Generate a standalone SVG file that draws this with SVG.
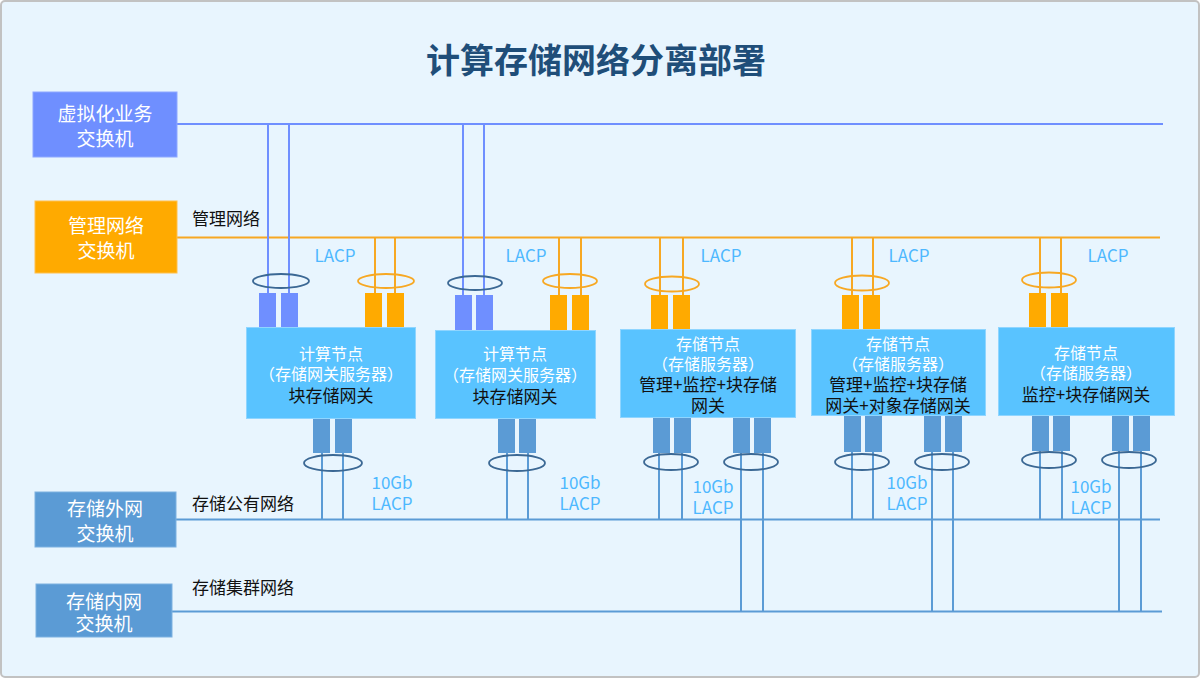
<svg xmlns="http://www.w3.org/2000/svg" width="1200" height="678" viewBox="0 0 1200 678">
<style>
text{font-family:"Noto Sans CJK SC","Noto Sans",sans-serif;dominant-baseline:central;text-anchor:middle}
.title{font-size:34px;font-weight:bold;fill:#1F4E79}
.sw{font-size:19px;fill:#FFFFFF}
.lbl{font-size:17px;fill:#111111;text-anchor:start}
.lacp{font-size:17px;fill:#4DB8FF}
.nw{font-size:16px;fill:#FFFFFF}
.nb{font-size:17px;fill:#111111}
.node{fill:#59C3FF;stroke:#8FD5FF;stroke-width:1}
.pv{fill:#6F8FFF}
.po{fill:#FFAA00}
.ps{fill:#5B9BD5}
.lv{stroke:#6F8FFF;stroke-width:2;fill:none}
.lo{stroke:#F7A823;stroke-width:2;fill:none}
.ls{stroke:#5B9BD5;stroke-width:2;fill:none}
.ed{fill:none;stroke:#3B6894;stroke-width:1.8}
.eo{fill:none;stroke:#F7A823;stroke-width:1.8}
</style>
<rect x="1" y="1" width="1198" height="676" rx="4" fill="#E8F5FE" stroke="#C2C2C2" stroke-width="2"/>
<text class="title" x="596" y="58">计算存储网络分离部署</text>

<g id="connectors">
  <line class="lv" x1="177" y1="124" x2="1163" y2="124" stroke-width="2.5"/>
  <line class="lo" x1="177" y1="237.5" x2="1160" y2="237.5"/>
  <line class="ls" x1="176" y1="519.5" x2="1160" y2="519.5"/>
  <line class="ls" x1="171" y1="611.5" x2="1162" y2="611.5"/>
  <line class="lv" x1="268" y1="124" x2="268" y2="293"/>
  <line class="lv" x1="289" y1="124" x2="289" y2="293"/>
  <line class="lv" x1="463" y1="124" x2="463" y2="295"/>
  <line class="lv" x1="484" y1="124" x2="484" y2="295"/>
  <line class="lo" x1="375" y1="237" x2="375" y2="293"/>
  <line class="lo" x1="395" y1="237" x2="395" y2="293"/>
  <line class="lo" x1="559" y1="237" x2="559" y2="295"/>
  <line class="lo" x1="581" y1="237" x2="581" y2="295"/>
  <line class="lo" x1="660" y1="237" x2="660" y2="295"/>
  <line class="lo" x1="683" y1="237" x2="683" y2="295"/>
  <line class="lo" x1="852" y1="237" x2="852" y2="295"/>
  <line class="lo" x1="873" y1="237" x2="873" y2="295"/>
  <line class="lo" x1="1040" y1="237" x2="1040" y2="293"/>
  <line class="lo" x1="1061" y1="237" x2="1061" y2="293"/>
  <line class="ls" x1="322" y1="452" x2="322" y2="519"/>
  <line class="ls" x1="343" y1="452" x2="343" y2="519"/>
  <line class="ls" x1="507" y1="452" x2="507" y2="519"/>
  <line class="ls" x1="528" y1="452" x2="528" y2="519"/>
  <line class="ls" x1="659" y1="452" x2="659" y2="519"/>
  <line class="ls" x1="682" y1="452" x2="682" y2="519"/>
  <line class="ls" x1="852" y1="452" x2="852" y2="519"/>
  <line class="ls" x1="873" y1="452" x2="873" y2="519"/>
  <line class="ls" x1="1040" y1="450" x2="1040" y2="519"/>
  <line class="ls" x1="1062" y1="450" x2="1062" y2="519"/>
  <line class="ls" x1="741" y1="452" x2="741" y2="611"/>
  <line class="ls" x1="763" y1="452" x2="763" y2="611"/>
  <line class="ls" x1="932" y1="452" x2="932" y2="611"/>
  <line class="ls" x1="953" y1="452" x2="953" y2="611"/>
  <line class="ls" x1="1119" y1="450" x2="1119" y2="611"/>
  <line class="ls" x1="1141" y1="450" x2="1141" y2="611"/>
  <ellipse class="ed" cx="281" cy="281" rx="28" ry="7"/>
  <ellipse class="eo" cx="386" cy="281" rx="28" ry="7"/>
  <ellipse class="ed" cx="475" cy="283" rx="27" ry="7"/>
  <ellipse class="eo" cx="570" cy="281" rx="27" ry="7"/>
  <ellipse class="eo" cx="672" cy="284" rx="27" ry="7.5"/>
  <ellipse class="eo" cx="862" cy="283" rx="27" ry="7.5"/>
  <ellipse class="eo" cx="1049" cy="280" rx="27" ry="7.5"/>
  <ellipse class="ed" cx="333" cy="463" rx="29" ry="8"/>
  <ellipse class="ed" cx="517" cy="463" rx="28" ry="8"/>
  <ellipse class="ed" cx="671" cy="462" rx="27" ry="8"/>
  <ellipse class="ed" cx="751" cy="462" rx="27" ry="8"/>
  <ellipse class="ed" cx="862" cy="462" rx="27" ry="8"/>
  <ellipse class="ed" cx="942" cy="462" rx="27" ry="8"/>
  <ellipse class="ed" cx="1049" cy="460" rx="27" ry="8"/>
  <ellipse class="ed" cx="1129" cy="460" rx="27" ry="8"/>
  <text class="lbl" x="192" y="217">管理网络</text>
  <text class="lbl" x="192" y="502">存储公有网络</text>
  <text class="lbl" x="192" y="586">存储集群网络</text>
  <text class="lacp" x="335" y="254">LACP</text>
  <text class="lacp" x="526" y="254">LACP</text>
  <text class="lacp" x="721" y="254">LACP</text>
  <text class="lacp" x="909" y="254">LACP</text>
  <text class="lacp" x="1108" y="254">LACP</text>
  <text class="lacp" x="392" y="481">10Gb</text>
  <text class="lacp" x="392" y="502">LACP</text>
  <text class="lacp" x="580" y="481">10Gb</text>
  <text class="lacp" x="580" y="502">LACP</text>
  <text class="lacp" x="713" y="485">10Gb</text>
  <text class="lacp" x="713" y="506">LACP</text>
  <text class="lacp" x="907" y="481">10Gb</text>
  <text class="lacp" x="907" y="502">LACP</text>
  <text class="lacp" x="1091" y="485">10Gb</text>
  <text class="lacp" x="1091" y="506">LACP</text>
</g>

<g id="sw-virtual">
  <rect x="33" y="92" width="144" height="65" fill="#6F8FFF" stroke="#8EA8FF" stroke-width="1"/>
  <text class="sw" x="105" y="112">虚拟化业务</text>
  <text class="sw" x="105" y="137">交换机</text>
</g>
<g id="sw-mgmt">
  <rect x="35" y="201" width="142" height="72" fill="#FFAA00" stroke="#FFC04D" stroke-width="1"/>
  <text class="sw" x="106" y="224">管理网络</text>
  <text class="sw" x="106" y="249">交换机</text>
</g>
<g id="sw-public">
  <rect x="35" y="492" width="141" height="55" fill="#5B9BD5" stroke="#7DB1E0" stroke-width="1"/>
  <text class="sw" x="105" y="507">存储外网</text>
  <text class="sw" x="105" y="532">交换机</text>
</g>
<g id="sw-cluster">
  <rect x="36" y="584" width="136" height="53" fill="#5B9BD5" stroke="#7DB1E0" stroke-width="1"/>
  <text class="sw" x="104" y="600">存储内网</text>
  <text class="sw" x="104" y="622">交换机</text>
</g>

<g id="node1">
  <rect class="pv" x="259" y="293" width="17" height="35"/>
  <rect class="pv" x="281" y="293" width="17" height="35"/>
  <rect class="po" x="365" y="293" width="17" height="35"/>
  <rect class="po" x="387" y="293" width="17" height="35"/>
  <rect class="ps" x="313" y="418" width="17" height="35"/>
  <rect class="ps" x="335" y="418" width="17" height="35"/>
  <rect class="node" x="246.5" y="327.5" width="169" height="91"/>
  <text class="nw" x="331" y="353">计算节点</text>
  <text class="nw" x="331" y="373">（存储网关服务器）</text>
  <text class="nb" x="331" y="394">块存储网关</text>
</g>
<g id="node2">
  <rect class="pv" x="455" y="295" width="17" height="36"/>
  <rect class="pv" x="476" y="295" width="17" height="36"/>
  <rect class="po" x="550" y="295" width="17" height="36"/>
  <rect class="po" x="572" y="295" width="17" height="36"/>
  <rect class="ps" x="498" y="418" width="17" height="35"/>
  <rect class="ps" x="519" y="418" width="17" height="35"/>
  <rect class="node" x="435.5" y="330.5" width="160" height="88"/>
  <text class="nw" x="515" y="353">计算节点</text>
  <text class="nw" x="515" y="374">（存储网关服务器）</text>
  <text class="nb" x="515" y="395">块存储网关</text>
</g>
<g id="node3">
  <rect class="po" x="651" y="295" width="17" height="35"/>
  <rect class="po" x="673" y="295" width="17" height="35"/>
  <rect class="ps" x="653" y="417" width="17" height="36"/>
  <rect class="ps" x="674" y="417" width="17" height="36"/>
  <rect class="ps" x="733" y="417" width="17" height="36"/>
  <rect class="ps" x="754" y="417" width="17" height="36"/>
  <rect class="node" x="620.5" y="329.5" width="175" height="88"/>
  <text class="nw" x="708" y="343">存储节点</text>
  <text class="nw" x="708" y="363">（存储服务器）</text>
  <text class="nb" x="708" y="383">管理+监控+块存储</text>
  <text class="nb" x="708" y="404">网关</text>
</g>
<g id="node4">
  <rect class="po" x="842" y="295" width="17" height="35"/>
  <rect class="po" x="863" y="295" width="17" height="35"/>
  <rect class="ps" x="844" y="415" width="17" height="37"/>
  <rect class="ps" x="865" y="415" width="17" height="37"/>
  <rect class="ps" x="924" y="415" width="17" height="37"/>
  <rect class="ps" x="945" y="415" width="17" height="37"/>
  <rect class="node" x="811.5" y="329.5" width="174" height="86"/>
  <text class="nw" x="898" y="343">存储节点</text>
  <text class="nw" x="898" y="363">（存储服务器）</text>
  <text class="nb" x="898" y="383">管理+监控+块存储</text>
  <text class="nb" x="898" y="404">网关+对象存储网关</text>
</g>
<g id="node5">
  <rect class="po" x="1029" y="293" width="17" height="36"/>
  <rect class="po" x="1051" y="293" width="17" height="36"/>
  <rect class="ps" x="1032" y="415" width="17" height="36"/>
  <rect class="ps" x="1053" y="415" width="17" height="36"/>
  <rect class="ps" x="1112" y="415" width="17" height="36"/>
  <rect class="ps" x="1133" y="415" width="17" height="36"/>
  <rect class="node" x="998.5" y="327.5" width="176" height="88"/>
  <text class="nw" x="1086" y="352">存储节点</text>
  <text class="nw" x="1086" y="372">（存储服务器）</text>
  <text class="nb" x="1086" y="393">监控+块存储网关</text>
</g>
</svg>
